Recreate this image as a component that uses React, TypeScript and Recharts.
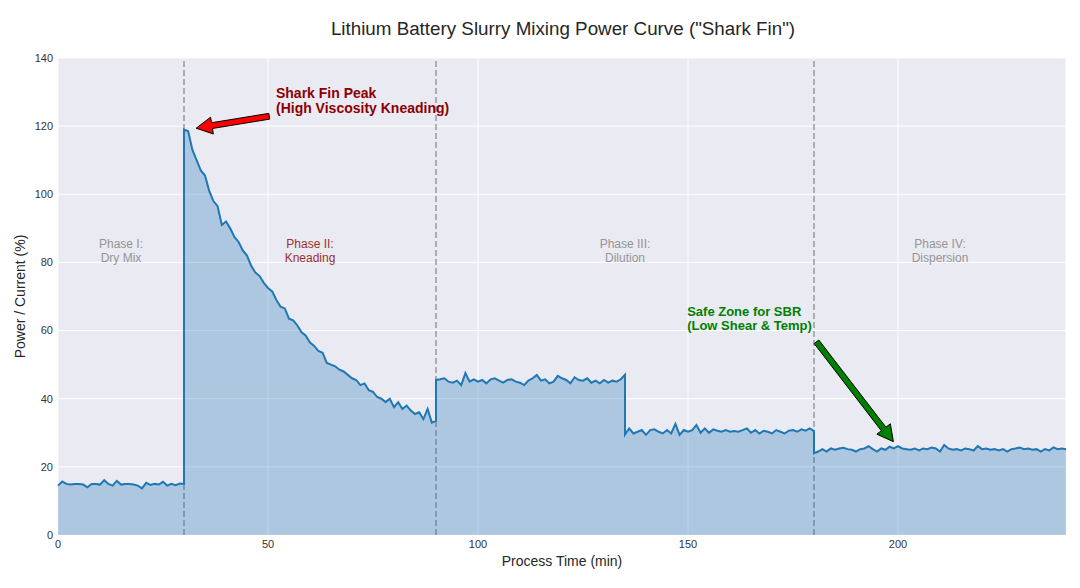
import React from 'react';
import {
  AreaChart, Area, XAxis, YAxis, CartesianGrid, ReferenceLine, ReferenceDot
} from 'recharts';

// power readings, one per minute, each list starts at its phase boundary
const phaseDryMix = [
  14.5, 15.7, 15.0, 14.8, 15.0, 15.0, 14.8, 14.0, 15.0, 15.0,
  14.8, 16.1, 15.0, 14.5, 15.9, 14.8, 15.0, 15.0, 14.8, 14.5,
  13.7, 15.3, 14.7, 15.0, 14.8, 15.6, 14.5, 15.0, 14.6, 15.1, 15.0
];
const phaseKneading = [
  119, 118.5, 113, 110, 107, 105.5, 101, 98, 96.5, 91,
  92, 90, 87.5, 86, 83.5, 82, 79, 77, 76, 74,
  72.5, 71.5, 69, 67, 66.5, 63.5, 63, 61.5, 59.5, 58.5,
  56.5, 55.5, 54, 53.5, 50.5, 50, 49.5, 48.5, 48, 47,
  46, 45.5, 44, 44.5, 42.5, 42, 40.5, 40, 39, 40,
  37.5, 39, 37, 38, 36.5, 35.5, 36, 34, 37, 33, 33.5
];
const phaseDilution = [
  45.5, 45.7, 46, 45, 44.7, 45.3, 44.0, 47.5, 45, 45.7,
  45, 45.5, 44.5, 45.7, 46, 45.3, 44.7, 45.5, 45.7, 45,
  44.7, 44.0, 45.3, 46, 47, 45.3, 45.7, 44.5, 45, 46.7,
  46, 45.5, 44.5, 46.3, 45.5, 45.3, 46, 44.7, 45.3, 44.5,
  45.5, 44.7, 45.3, 45, 45.7, 47.0
];
const phaseDilutionLate = [
  29.5, 31.3, 29.8, 30.3, 30.8, 29.4, 30.8, 31.0, 30.3, 29.8,
  30.8, 29.8, 32.6, 29.4, 30.8, 30.3, 30.8, 32.3, 30, 31.3,
  30, 31, 30.6, 30.3, 30.8, 30.3, 30.5, 30.3, 30.8, 31.3,
  30, 30.8, 29.8, 30.6, 30.3, 29.8, 30.8, 30.3, 29.8, 30.6,
  30.8, 30.3, 31, 30.6, 31.3, 30.5
];
const phaseDispersion = [
  24.0, 24.5, 25.2, 24.5, 25.4, 25, 25.4, 25.6, 25.2, 25,
  24.5, 25.2, 25.4, 26.1, 25.2, 24.5, 25.4, 25, 25.9, 25.4,
  26.1, 25.4, 25.2, 25, 25.4, 24.8, 25.4, 25.2, 25.7, 25.4,
  24.5, 26.4, 25.4, 25, 25.2, 24.8, 25.4, 25.2, 24.8, 26.1,
  25.2, 25.4, 25, 25.2, 24.8, 25.2, 24.5, 25.2, 25.4, 25.7,
  25.2, 25.4, 25, 25.2, 24.5, 25.2, 24.8, 25.7, 25.2, 25.4, 25.2
];
const phaseStarts = [0, 30, 90, 135, 180];
const phaseBoundaries = [30, 90, 180];
const xTicks = [0, 50, 100, 150, 200];
const yTicks = [0, 20, 40, 60, 80, 100, 120, 140];

const phaseLabels = [
  { t: 15, line1: 'Phase I:', line2: 'Dry Mix', color: '#959596' },
  { t: 60, line1: 'Phase II:', line2: 'Kneading', color: '#9e2f2f' },
  { t: 135, line1: 'Phase III:', line2: 'Dilution', color: '#959596' },
  { t: 210, line1: 'Phase IV:', line2: 'Dispersion', color: '#959596' },
];

const FONT = '"Liberation Sans", Arial, sans-serif';

const phases = [phaseDryMix, phaseKneading, phaseDilution, phaseDilutionLate, phaseDispersion];
const data = phases.flatMap((vals, p) =>
  vals.map((v, i) => ({ t: phaseStarts[p] + i, power: v }))
);

// matplotlib-like filled arrow drawn from (x1,y1) tail to (x2,y2) tip
function arrowShape(fill: string) {
  return (props: any) => {
    const { x1, y1, x2, y2 } = props;
    const dx = x2 - x1, dy = y2 - y1;
    const len = Math.sqrt(dx * dx + dy * dy);
    const ux = dx / len, uy = dy / len;
    const nx = -uy, ny = ux;
    const w = 2.9, hw = 8.5, hl = 16;
    const bx = x2 - ux * hl, by = y2 - uy * hl;
    const pts = [
      [x1 + nx * w, y1 + ny * w],
      [bx + nx * w, by + ny * w],
      [bx + nx * hw, by + ny * hw],
      [x2, y2],
      [bx - nx * hw, by - ny * hw],
      [bx - nx * w, by - ny * w],
      [x1 - nx * w, y1 - ny * w],
    ].map(p => p.join(',')).join(' ');
    return <polygon points={pts} fill={fill} stroke="#000" strokeWidth={1} strokeLinejoin="miter" />;
  };
}

function textShape(lines: string[], color: string, size: number, weight: string, anchor: string, gap: number) {
  return (props: any) => (
    <text x={props.cx} y={props.cy} fill={color} fontSize={size} fontWeight={weight}
      textAnchor={anchor} fontFamily={FONT}>
      {lines.map((l, i) => (
        <tspan key={i} x={props.cx} dy={i === 0 ? 0 : gap}>{l}</tspan>
      ))}
    </text>
  );
}

export default function App() {
  return (
    <div style={{ position: 'absolute', left: 0, top: 0, width: 1080, height: 588, background: '#fff', fontFamily: FONT }}>
      <AreaChart width={1080} height={588} data={data}
        margin={{ top: 58, right: 14, left: 0, bottom: 0 }}>
        <CartesianGrid stroke="#ffffff" strokeWidth={1} fill="#EAEAF2" />
        <XAxis dataKey="t" type="number" domain={[0, 240]} ticks={xTicks} height={53}
          axisLine={false} tickLine={false} tickSize={0} tickMargin={5}
          tick={{ fill: '#333', fontSize: 11, fontFamily: FONT }} />
        <YAxis type="number" domain={[0, 140]} ticks={yTicks} width={58}
          axisLine={false} tickLine={false} tickSize={0} tickMargin={5}
          tick={{ fill: '#333', fontSize: 11, fontFamily: FONT }} />
        {phaseBoundaries.map(b => (
          <ReferenceLine key={b} x={b} stroke="#999" strokeWidth={1.5} strokeDasharray="6 3" zIndex={50} />
        ))}
        <Area type="linear" dataKey="power" stroke="#1f77b4" strokeWidth={2}
          fill="#1f77b4" fillOpacity={0.3} isAnimationActive={false} dot={false} activeDot={false} />
        {phaseLabels.map(p => (
          <ReferenceDot key={p.t} x={p.t} y={84.2} r={0}
            shape={textShape([p.line1, p.line2], p.color, 12, 'normal', 'middle', 13.7)} />
        ))}
        <ReferenceLine segment={[{ x: 50.3, y: 122.9 }, { x: 32.9, y: 119.4 }]}
          shape={arrowShape('#ff0000')} />
        <ReferenceDot x={51.9} y={128.2} r={0}
          shape={textShape(['Shark Fin Peak', '(High Viscosity Kneading)'], '#8b0000', 14, 'bold', 'start', 14.5)} />
        <ReferenceLine segment={[{ x: 180.6, y: 56.7 }, { x: 198.9, y: 27.4 }]}
          shape={arrowShape('#008000')} />
        <ReferenceDot x={149.8} y={64.2} r={0}
          shape={textShape(['Safe Zone for SBR', '(Low Shear & Temp)'], '#008000', 13, 'bold', 'start', 13.5)} />
      </AreaChart>
      <svg width={1080} height={588} style={{ position: 'absolute', left: 0, top: 0, pointerEvents: 'none' }}>
        <text x={563} y={34.5} textAnchor="middle" fontSize={18.8} fill="#262626" fontFamily={FONT}>
          Lithium Battery Slurry Mixing Power Curve ("Shark Fin")
        </text>
        <text x={562} y={566} textAnchor="middle" fontSize={14} fill="#262626" fontFamily={FONT}>
          Process Time (min)
        </text>
        <text x={25} y={296.5} textAnchor="middle" fontSize={14} fill="#262626" fontFamily={FONT}
          transform="rotate(-90 25 296.5)">
          Power / Current (%)
        </text>
      </svg>
    </div>
  );
}
